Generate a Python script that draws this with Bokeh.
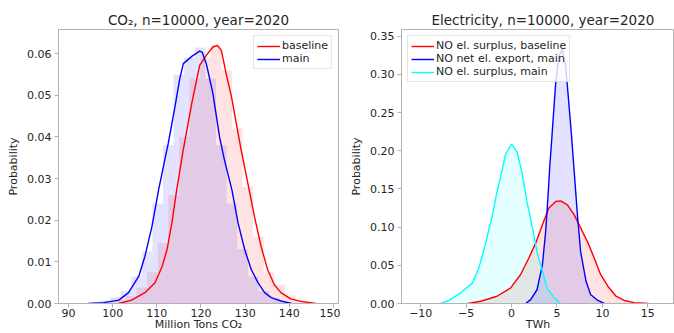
from bokeh.plotting import figure
from bokeh.layouts import row
from bokeh.models import FixedTicker, NumeralTickFormatter
from bokeh.embed import file_html
from bokeh.resources import INLINE

# ---------------- data: CO2 (left) ----------------
co2_base_x = [101.4, 104.3, 107.3, 109.6, 111.2, 112.3, 113.4, 114.5, 116.0, 117.9, 119.7, 121.2,
              122.7, 123.7, 124.6, 125.7, 126.9, 128.0, 129.1, 130.6, 132.1, 133.6, 135.1, 136.6,
              138.1, 140.3, 142.6, 146.0]
co2_base_y = [0.0, 0.0008, 0.0026, 0.0050, 0.0089, 0.0129, 0.0193, 0.0273, 0.0370, 0.0480, 0.0572, 0.0596,
              0.0616, 0.0620, 0.0608, 0.0552, 0.0496, 0.0432, 0.0368, 0.0289, 0.0209, 0.0137, 0.0081, 0.0045,
              0.0026, 0.0011, 0.0005, 0.0]
co2_main_x = [94.5, 98.0, 101.4, 103.6, 105.9, 107.3, 108.9, 110.4, 111.8, 112.6, 114.1, 115.2, 116.0,
              118.0, 119.7, 120.3, 121.2, 122.7, 124.2, 125.3, 127.0, 128.4, 129.9, 131.4, 132.9, 134.4,
              135.9, 138.1, 140.5]
co2_main_y = [0.0, 0.0002, 0.0008, 0.0026, 0.0065, 0.0113, 0.0185, 0.0273, 0.0345, 0.0385, 0.0472, 0.0540, 0.0576,
              0.0594, 0.0606, 0.0603, 0.0576, 0.0504, 0.0400, 0.0345, 0.0273, 0.0193, 0.0129, 0.0081, 0.0050, 0.0026,
              0.0014, 0.0006, 0.0]

# histogram bins (left edges) and heights
hist_width = 2.4
hist_main_left = [94.6, 97.0, 99.4, 101.8, 104.2, 106.6, 109.0, 111.4, 113.8, 116.2, 118.6, 121.0,
                  123.4, 125.8, 128.2, 130.6, 133.0, 135.4, 137.8]
hist_main_h = [0.0003, 0.0007, 0.0015, 0.003, 0.0065, 0.0125, 0.024, 0.038, 0.055, 0.059, 0.0615, 0.054,
               0.038, 0.024, 0.013, 0.0065, 0.003, 0.0012, 0.0004]
hist_base_left = [98.2, 100.6, 103.0, 105.4, 107.8, 110.2, 112.6, 115.0, 117.4, 119.8, 122.2, 124.6,
                  127.0, 129.4, 131.8, 134.2, 136.6, 139.0, 141.4, 143.8]
hist_base_h = [0.0003, 0.0008, 0.0018, 0.0038, 0.0075, 0.0145, 0.026, 0.040, 0.054, 0.059, 0.062, 0.056,
               0.042, 0.028, 0.016, 0.0075, 0.0045, 0.002, 0.0008, 0.0002]

# ---------------- data: Electricity (right) ----------------
el_base_x = [-4.8, -3.4, -1.6, -0.1, 1.0, 1.9, 2.65, 3.4, 4.1, 4.86, 5.4, 6.15, 6.9, 7.6, 8.35, 9.1,
             9.8, 10.6, 11.5, 12.4, 13.5, 15.1]
el_base_y = [0.0, 0.003, 0.0095, 0.0204, 0.038, 0.0596, 0.079, 0.103, 0.125, 0.1335, 0.1344, 0.129,
             0.116, 0.099, 0.081, 0.0596, 0.038, 0.0226, 0.0095, 0.004, 0.0012, 0.0]
el_export_x = [1.55, 2.1, 2.8, 3.4, 3.75, 4.0, 4.2, 4.5, 4.86, 5.2, 5.6, 5.96, 6.3, 6.6, 6.9, 7.25,
               7.6, 8.2, 8.7, 9.5, 10.2]
el_export_y = [0.0, 0.005, 0.018, 0.051, 0.094, 0.138, 0.178, 0.228, 0.289, 0.324, 0.333, 0.311, 0.263,
               0.22, 0.172, 0.116, 0.068, 0.029, 0.0117, 0.004, 0.0]
el_main_x = [-7.8, -6.9, -5.6, -4.3, -3.6, -2.9, -2.1, -1.6, -1.0, -0.66, 0.0, 0.63, 1.2, 1.7, 2.3,
             2.8, 3.4, 3.9, 4.7, 5.4]
el_main_y = [0.0, 0.004, 0.014, 0.027, 0.0466, 0.077, 0.116, 0.1465, 0.177, 0.1957, 0.2087, 0.198, 0.168,
             0.133, 0.099, 0.068, 0.042, 0.0204, 0.0074, 0.0]

co2_xticks = [90, 100, 110, 120, 130, 140, 150]
co2_yticks = [0.0, 0.01, 0.02, 0.03, 0.04, 0.05, 0.06]
el_xticks = [-10, -5, 0, 5, 10, 15]
el_yticks = [0.0, 0.05, 0.10, 0.15, 0.20, 0.25, 0.30, 0.35]

FONT = "DejaVu Sans"
TXT = "#262626"
SPINE = "#b3b3b3"


def style(p, xticks, yticks, xlabel):
    p.xgrid.visible = False
    p.ygrid.visible = False
    p.outline_line_color = SPINE
    p.background_fill_color = "white"
    p.border_fill_color = "white"
    p.xaxis.ticker = FixedTicker(ticks=xticks)
    p.yaxis.ticker = FixedTicker(ticks=yticks)
    p.yaxis.formatter = NumeralTickFormatter(format="0.00")
    for ax in (p.xaxis[0], p.yaxis[0]):
        ax.axis_line_color = SPINE
        ax.major_tick_line_color = SPINE
        ax.minor_tick_line_color = None
        ax.major_tick_out = 4
        ax.major_tick_in = 0
        ax.major_label_text_font = FONT
        ax.major_label_text_font_size = "11px"
        ax.major_label_text_color = TXT
        ax.axis_label_text_font = FONT
        ax.axis_label_text_font_size = "11px"
        ax.axis_label_text_font_style = "normal"
        ax.axis_label_text_color = TXT
        ax.major_label_standoff = 3
        ax.axis_label_standoff = 4
    p.xaxis.major_label_standoff = 1
    p.xaxis.axis_label_standoff = -2
    p.xaxis.axis_label = xlabel
    p.yaxis.axis_label = "Probability"
    p.title.text_font = FONT
    p.title.text_font_size = "13.5px"
    p.title.text_font_style = "normal"
    p.title.text_color = TXT
    p.title.standoff = 4


def style_legend(p, loc):
    lg = p.legend[0]
    lg.location = loc
    lg.margin = 6
    lg.padding = 3
    lg.spacing = 0
    lg.glyph_width = 23
    lg.glyph_height = 12
    lg.label_height = 12
    lg.label_standoff = 2
    lg.label_text_font = FONT
    lg.label_text_font_size = "11px"
    lg.label_text_color = TXT
    lg.border_line_color = "#cccccc"
    lg.background_fill_alpha = 0.8


# ---------------- left figure ----------------
p1 = figure(width=340, height=333, x_range=(87.74, 151.13), y_range=(0, 0.0658),
            output_backend="svg", toolbar_location=None,
            min_border_left=58, min_border_right=2, min_border_top=29, min_border_bottom=29,
            title="CO\u2082, n=10000, year=2020")
style(p1, co2_xticks, co2_yticks, "Million Tons CO\u2082")
p1.title.align = "center"

p1.quad(left=hist_base_left, right=[v + hist_width for v in hist_base_left], bottom=0, top=hist_base_h,
        fill_color="red", fill_alpha=0.11, line_color=None)
p1.quad(left=hist_main_left, right=[v + hist_width for v in hist_main_left], bottom=0, top=hist_main_h,
        fill_color="blue", fill_alpha=0.11, line_color=None)
p1.line(co2_base_x, co2_base_y, line_color="red", line_width=1.4, legend_label="baseline")
p1.line(co2_main_x, co2_main_y, line_color="blue", line_width=1.4, legend_label="main")
style_legend(p1, "top_right")

# ---------------- right figure ----------------
p2 = figure(width=334, height=333, x_range=(-12.12, 17.94), y_range=(0, 0.3587),
            output_backend="svg", toolbar_location=None,
            min_border_left=61, min_border_right=0, min_border_top=29, min_border_bottom=29,
            title="Electricity, n=10000, year=2020")
style(p2, el_xticks, el_yticks, "TWh")
p2.title.align = "left"
p2.title.offset = 30
p2.xaxis.major_label_overrides = {-10: "\u221210", -5: "\u22125"}

p2.varea(x=el_base_x, y1=0, y2=el_base_y, fill_color="red", fill_alpha=0.11)
p2.varea(x=el_export_x, y1=0, y2=el_export_y, fill_color="blue", fill_alpha=0.11)
p2.varea(x=el_main_x, y1=0, y2=el_main_y, fill_color="cyan", fill_alpha=0.11)
p2.line(el_base_x, el_base_y, line_color="red", line_width=1.4, legend_label="NO el. surplus, baseline")
p2.line(el_export_x, el_export_y, line_color="blue", line_width=1.4, legend_label="NO net el. export, main")
p2.line(el_main_x, el_main_y, line_color="cyan", line_width=1.4, legend_label="NO el. surplus, main")
style_legend(p2, "top_left")

layout = row(p1, p2)
open("out.html", "w").write(file_html(layout, INLINE))
